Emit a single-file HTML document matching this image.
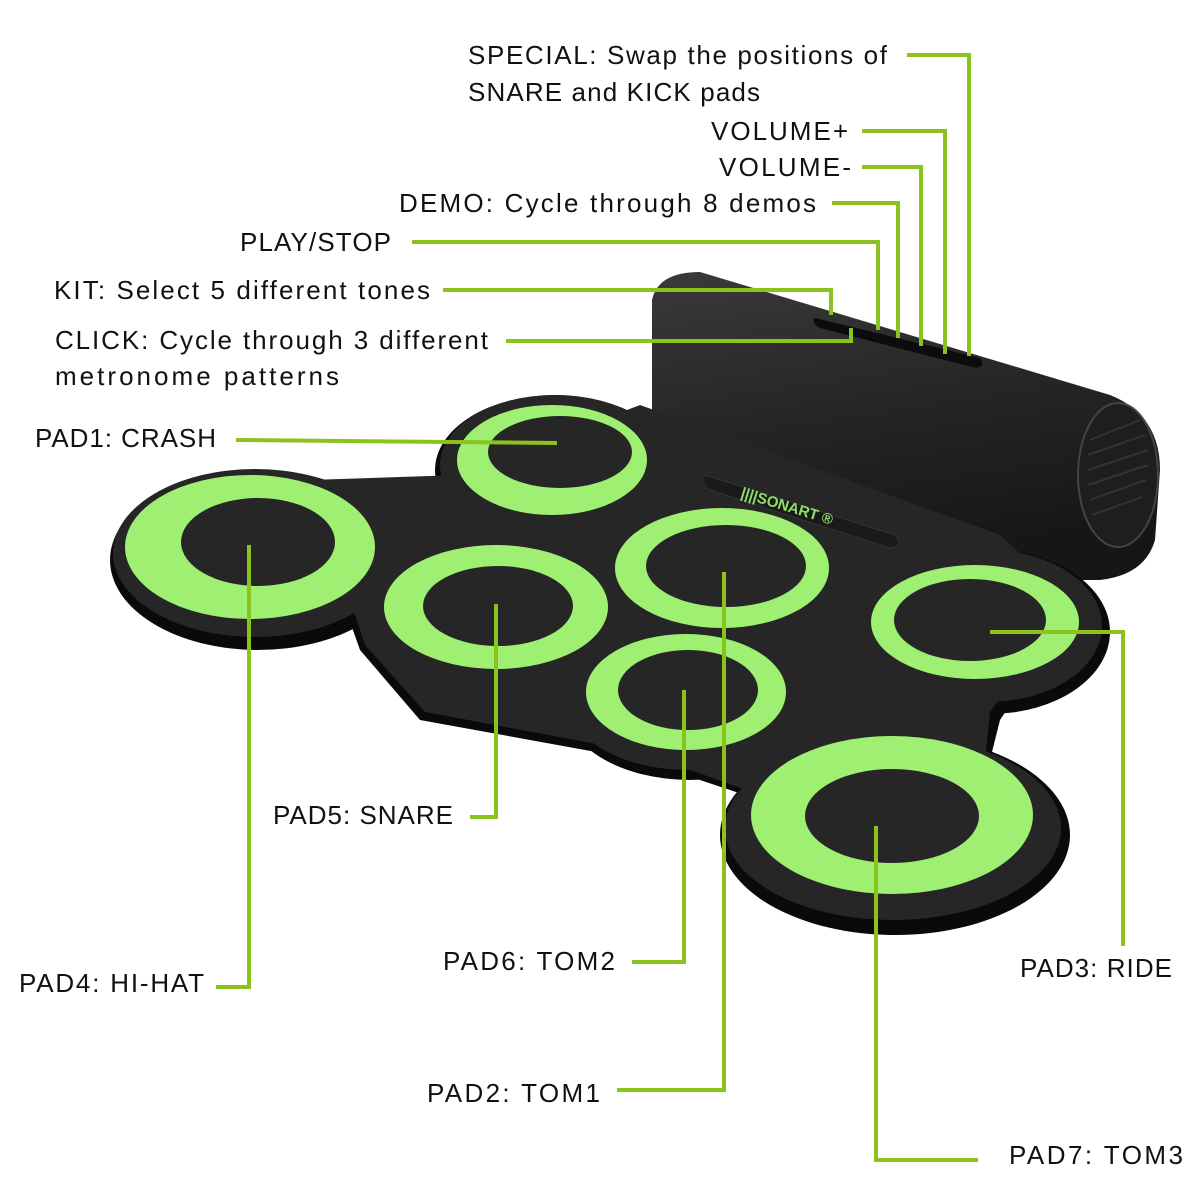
<!DOCTYPE html>
<html><head><meta charset="utf-8"><style>
html,body{margin:0;padding:0;background:#fff;width:1200px;height:1200px;overflow:hidden}
svg{display:block}
text{font-family:"Liberation Sans",sans-serif;font-size:26px;fill:#111}
</style></head><body>
<svg width="1200" height="1200" viewBox="0 0 1200 1200">
<defs>
<linearGradient id="cyl" x1="0" y1="0" x2="0.25" y2="1">
<stop offset="0" stop-color="#3a3a3a"/><stop offset="0.5" stop-color="#262626"/><stop offset="1" stop-color="#161616"/>
</linearGradient>
</defs>
<path d="M652,560 L652,300 Q658,272 700,272 L1110,395 Q1160,415 1160,470 L1155,540 Q1145,575 1100,580 L1000,580 Z" fill="url(#cyl)"/>
<ellipse cx="1118" cy="475" rx="40" ry="72" fill="#1e1e1e" stroke="#444" stroke-width="2"/>
<g stroke="#333" stroke-width="2">
<line x1="1090" y1="440" x2="1140" y2="420"/><line x1="1088" y1="455" x2="1145" y2="435"/><line x1="1088" y1="470" x2="1148" y2="450"/><line x1="1088" y1="485" x2="1148" y2="465"/><line x1="1090" y1="500" x2="1146" y2="480"/><line x1="1092" y1="515" x2="1142" y2="497"/>
</g>
<path d="M815,318 L980,358 Q986,366 976,368 L820,328 Q810,322 815,318Z" fill="#0c0c0c"/>
<g fill="#0a0a0a">
<ellipse cx="258" cy="560" rx="148" ry="90"/>
<ellipse cx="555" cy="470" rx="120" ry="75"/>
<ellipse cx="500" cy="622" rx="135" ry="85"/>
<ellipse cx="690" cy="705" rx="125" ry="75"/>
<ellipse cx="990" cy="632" rx="120" ry="82"/>
<ellipse cx="895" cy="835" rx="175" ry="100"/>
<polygon points="300,480 460,480 640,410 1000,540 1080,600 1000,720 990,760 900,800 760,800 640,760 420,720 360,650"/>
</g>
<g fill="#262626">
<ellipse cx="255" cy="553" rx="142" ry="84"/>
<ellipse cx="555" cy="465" rx="115" ry="70"/>
<ellipse cx="498" cy="615" rx="130" ry="80"/>
<ellipse cx="688" cy="700" rx="120" ry="70"/>
<ellipse cx="988" cy="626" rx="114" ry="76"/>
<ellipse cx="893" cy="828" rx="168" ry="92"/>
<polygon points="310,480 460,475 640,405 1000,535 1070,600 990,712 985,760 900,795 760,795 640,752 425,712 365,645"/>
</g>
<path d="M705,475 L895,535 Q905,545 890,548 L710,490 Q698,482 705,475Z" fill="#1a1a1a" stroke="#333"/>
<text x="740" y="497" transform="rotate(17 740 497)" style="font-size:15px;font-weight:bold;fill:#8ee06a">||||SONART ®</text>
<g fill="#9eef72">
<ellipse cx="250" cy="547" rx="125" ry="72"/>
<ellipse cx="552" cy="460" rx="95" ry="55"/>
<ellipse cx="496" cy="607" rx="112" ry="62"/>
<ellipse cx="722" cy="568" rx="107" ry="60"/>
<ellipse cx="686" cy="692" rx="100" ry="58"/>
<ellipse cx="975" cy="622" rx="104" ry="57"/>
<ellipse cx="892" cy="815" rx="141" ry="79"/>
</g>
<g fill="#262626">
<ellipse cx="258" cy="542" rx="77" ry="44"/>
<ellipse cx="560" cy="452" rx="72" ry="36"/>
<ellipse cx="498" cy="606" rx="75" ry="40"/>
<ellipse cx="726" cy="566" rx="80" ry="41"/>
<ellipse cx="688" cy="690" rx="70" ry="40"/>
<ellipse cx="970" cy="620" rx="76" ry="41"/>
<ellipse cx="892" cy="816" rx="87" ry="47"/>
</g>
<g fill="none" stroke="#8cc21e" stroke-width="4">
<polyline points="907,55 969,55 969,356"/>
<polyline points="862,131 945,131 945,354"/>
<polyline points="862,167 921,167 921,346"/>
<polyline points="832,203 898,203 898,338"/>
<polyline points="412,242 878,242 878,330"/>
<polyline points="443,290 831,290 831,315"/>
<polyline points="506,341 851,341 851,328"/>
<polyline points="236,440 557,443"/>
<polyline points="216,987 249,987 249,545"/>
<polyline points="470,817 496,817 496,604"/>
<polyline points="632,962 684,962 684,690"/>
<polyline points="617,1090 724,1090 724,572"/>
<polyline points="978,1160 876,1160 876,826"/>
<polyline points="990,632 1123,632 1123,946"/>
</g>
<text x="468" y="64" textLength="419">SPECIAL: Swap the positions of</text>
<text x="468" y="101" textLength="292">SNARE and KICK pads</text>
<text x="711" y="140" textLength="137">VOLUME+</text>
<text x="719" y="176" textLength="132">VOLUME-</text>
<text x="399" y="212" textLength="417">DEMO: Cycle through 8 demos</text>
<text x="240" y="251" textLength="151">PLAY/STOP</text>
<text x="54" y="299" textLength="376">KIT: Select 5 different tones</text>
<text x="55" y="349" textLength="433">CLICK: Cycle through 3 different</text>
<text x="55" y="385" textLength="284">metronome patterns</text>
<text x="35" y="447" textLength="181">PAD1: CRASH</text>
<text x="19" y="992" textLength="185">PAD4: HI-HAT</text>
<text x="273" y="824" textLength="180">PAD5: SNARE</text>
<text x="443" y="970" textLength="172">PAD6: TOM2</text>
<text x="427" y="1102" textLength="173">PAD2: TOM1</text>
<text x="1009" y="1164" textLength="174">PAD7: TOM3</text>
<text x="1020" y="977" textLength="152">PAD3: RIDE</text>
</svg>
</body></html>
